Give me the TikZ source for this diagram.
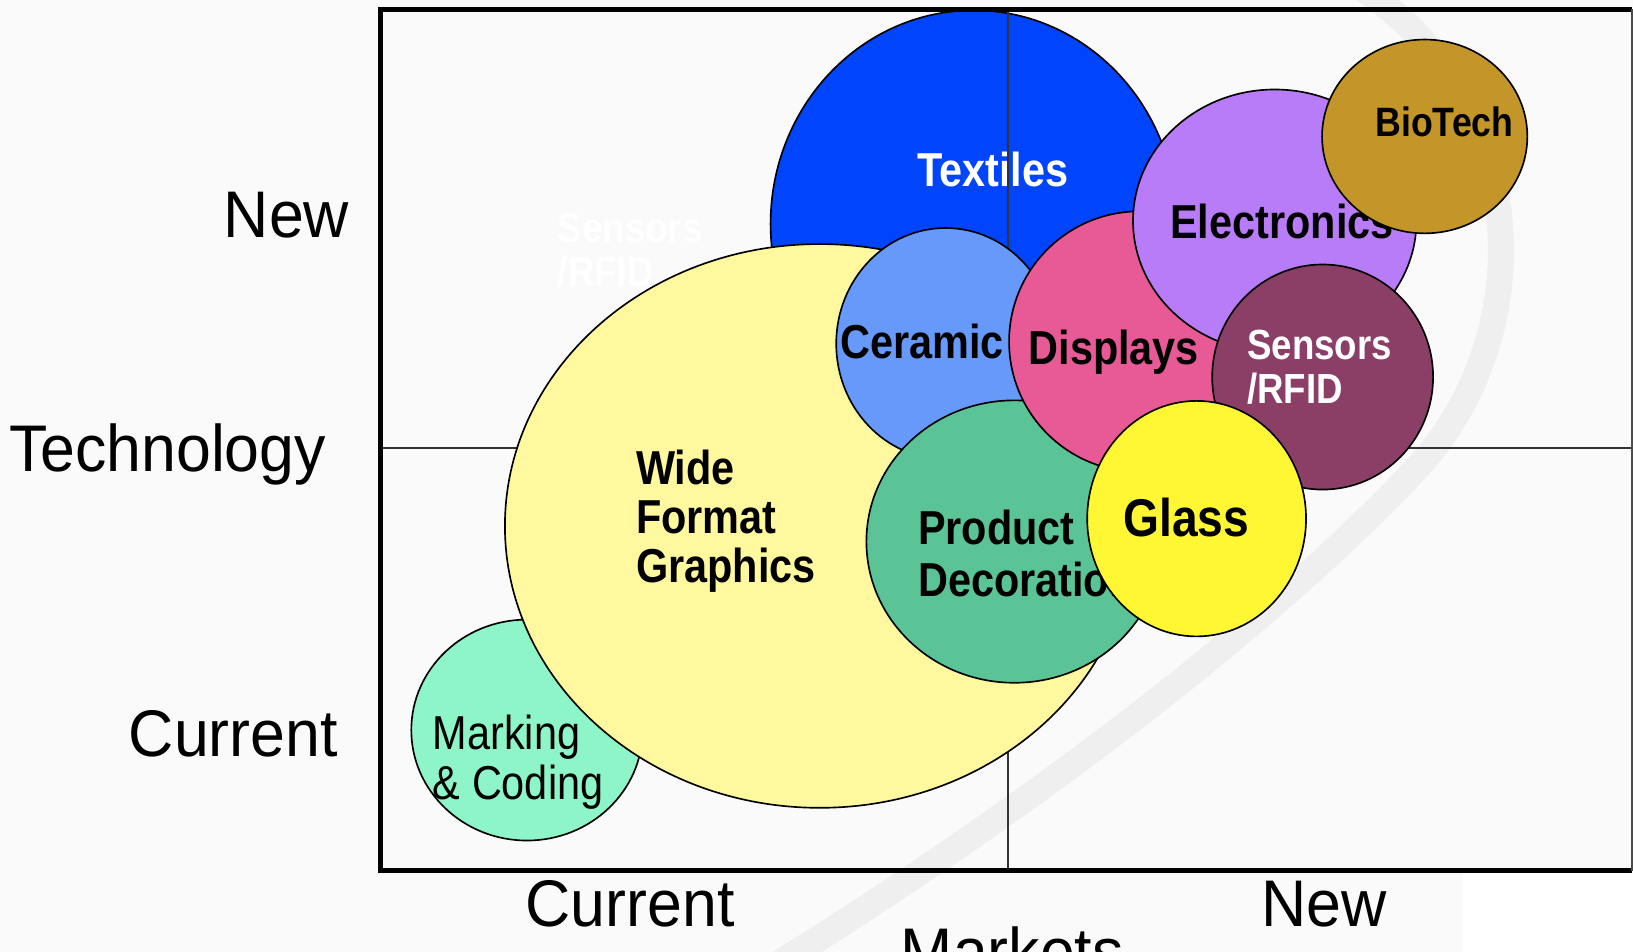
\documentclass[tikz,border=0pt]{standalone}
\usepackage{fontspec}
\usepackage{tikz}
\usetikzlibrary{shapes.geometric}

\newfontfamily\bubblefont[FakeStretch=0.87]{Liberation Sans}
\newfontfamily\axisfont[FakeStretch=0.95]{Liberation Sans}

\definecolor{bgGray}{HTML}{FAFAFA}
\definecolor{swooshGray}{HTML}{EFEFEF}
\definecolor{textilesBlue}{HTML}{0045FC}
\definecolor{wideYellow}{HTML}{FFF89E}
\definecolor{markingAqua}{HTML}{8EF5C8}
\definecolor{ceramicBlue}{HTML}{6699FA}
\definecolor{productGreen}{HTML}{5AC496}
\definecolor{displaysPink}{HTML}{E85A96}
\definecolor{electronicsLilac}{HTML}{B87CF8}
\definecolor{biotechGold}{HTML}{C4962A}
\definecolor{sensorsMaroon}{HTML}{8B3F66}
\definecolor{glassYellow}{HTML}{FFF733}

\begin{document}
\begin{tikzpicture}[x=0.01cm, y=-0.01cm,
    bubble/.style={ellipse, draw=black, line width=0.45pt, inner sep=0pt},
    lbl/.style={font=\bubblefont\bfseries\fontsize{13}{13.3}\selectfont,
                inner sep=0pt, anchor=base west, align=left},
    axislbl/.style={font=\axisfont\fontsize{18}{20}\selectfont, inner sep=0pt},
    midline/.style={draw=black!80, line width=0.55pt}]

\clip (0,0) rectangle (1568,914);
\fill[bgGray] (0,0) rectangle (1568,914);
\fill[white] (1405,838) rectangle (1568,914);
% background swoosh
\draw[swooshGray, line width=0.25cm, line cap=round]
    (1310,-10) .. controls (1470,100) and (1480,320) .. (1360,450)
    .. controls (1200,620) and (950,800) .. (740,930);

\coordinate (tl) at (365,9);
\coordinate (tr) at (1567,9);
\coordinate (br) at (1567,836);
\coordinate (bl) at (365,836);

% Textiles sits under the quadrant lines
\node[bubble, fill=textilesBlue, minimum width=3.9cm, minimum height=4.1cm] (textiles) at (935,215) {};
\node[lbl, text=white] (textilesLbl) at (880,179) {Textiles};

\draw[midline] (968,9) -- (968,836);
\draw[midline] (365,430) -- (1567,430);

% multi-line labels sit on the baseline of their last line
\node[bubble, fill=markingAqua, minimum width=2.22cm, minimum height=2.12cm] (marking) at (506,701) {};
\node[lbl, font=\bubblefont\fontsize{13}{13.7}\selectfont] (markingLbl) at (415,768) {Marking\\\& Coding};

\node[bubble, fill=wideYellow, minimum width=6.04cm, minimum height=5.41cm] (wide) at (787,505) {};
\node[lbl] (wideLbl) at (610,559) {Wide\\Format\\Graphics};

\node[bubble, fill=ceramicBlue, minimum width=2.1cm, minimum height=2.22cm] (ceramic) at (908,330) {};
\node[lbl] (ceramicLbl) at (806,344) {Ceramic};

\node[bubble, fill=productGreen, minimum width=2.84cm, minimum height=2.71cm] (product) at (974,520) {};
\node[lbl, font=\bubblefont\bfseries\fontsize{13}{14.2}\selectfont] (productLbl) at (881,573) {Product\\Decoration};

\node[bubble, fill=displaysPink, minimum width=2.5cm, minimum height=2.5cm] (displays) at (1094,328) {};
\node[lbl] (displaysLbl) at (987,350) {Displays};

\node[bubble, fill=electronicsLilac, minimum width=2.72cm, minimum height=2.52cm] (electronics) at (1224,212) {};
\node[lbl] (electronicsLbl) at (1123,229) {Electronics};

\node[bubble, fill=biotechGold, minimum width=1.97cm, minimum height=1.86cm] (biotech) at (1368,131) {};
\node[lbl, font=\bubblefont\bfseries\fontsize{11.2}{12}\selectfont] (biotechLbl) at (1320,131) {BioTech};

\node[bubble, fill=sensorsMaroon, minimum width=2.12cm, minimum height=2.16cm] (sensors) at (1270,362) {};
\node[lbl, text=white, font=\bubblefont\bfseries\fontsize{11.5}{12}\selectfont] (sensorsLbl) at (1197,387) {Sensors\\/RFID};

\node[bubble, fill=glassYellow, minimum width=2.1cm, minimum height=2.26cm] (glass) at (1149,498) {};
\node[lbl, font=\bubblefont\bfseries\fontsize{14.5}{15}\selectfont] (glassLbl) at (1078,515) {Glass};

% faint leftover label
\node[lbl, text=white, font=\bubblefont\bfseries\fontsize{11.5}{12}\selectfont] (ghostLbl) at (535,275) {Sensors\\/RFID};

% axis labels
\node[axislbl, anchor=base east] (techNew) at (336,228) {New};
\node[axislbl, anchor=base west] (techAxis) at (8,453) {Technology};
\node[axislbl, anchor=base east] (techCurrent) at (325,726) {Current};
\node[axislbl, anchor=base] (mktCurrent) at (605,890) {Current};
\node[axislbl, anchor=base] (mktNew) at (1271,890) {New};
\node[axislbl, anchor=base] (mktAxis) at (972,936) {Markets};

% frame
\draw[line width=1.3pt] (tr) -- (tl) -- (bl) -- (br);
\draw[black!70, line width=0.4pt] (tr) -- (br);
\end{tikzpicture}
\end{document}
